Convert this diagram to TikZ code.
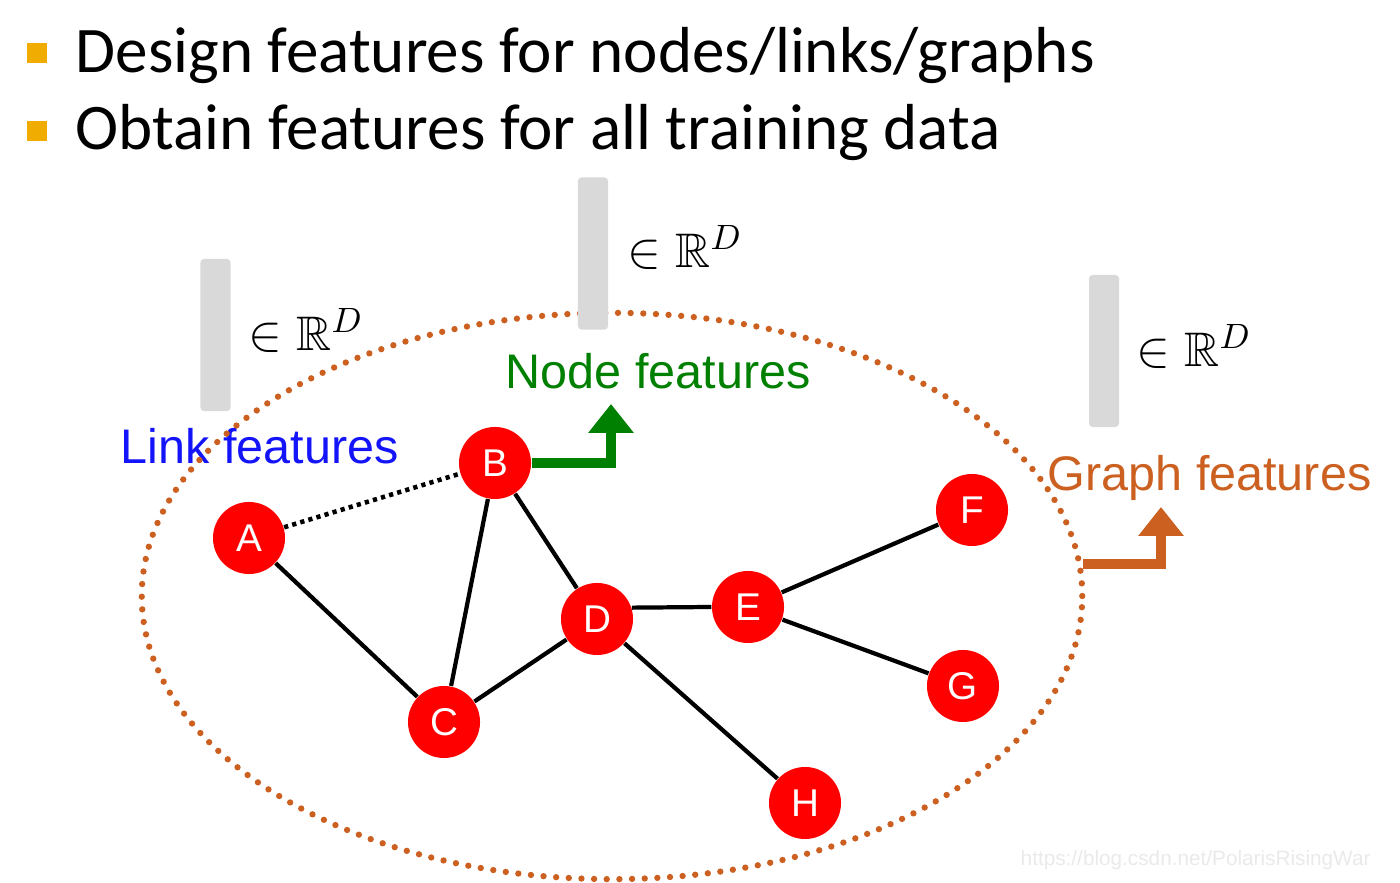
\documentclass[tikz,border=0pt]{standalone}
\usepackage{amssymb}
\usepackage{fontspec}
\newfontfamily\carl{Carlito}
\newfontfamily\arial{Liberation Sans}
\usetikzlibrary{arrows.meta}
\definecolor{bulletc}{RGB}{240,172,0}
\definecolor{barc}{RGB}{217,217,217}
\definecolor{linkc}{RGB}{20,20,250}
\definecolor{nodec}{RGB}{0,128,0}
\definecolor{graphc}{RGB}{204,96,32}
\definecolor{wmc}{RGB}{234,234,234}
\begin{document}
\begin{tikzpicture}[x=0.01cm,y=-0.01cm,
  bulletsq/.style={fill=bulletc, minimum size=0.2cm, inner sep=0},
  bul/.style={anchor=base west, inner sep=0, font=\carl\fontsize{18.5}{22}\selectfont},
  vertex/.style={circle, fill=red, minimum size=0.72cm, inner sep=0, text=white, font=\arial\fontsize{11}{13}\selectfont},
  edge/.style={black, line width=1.2pt},
  linkedge/.style={black, line width=1.3pt, dash pattern=on 1.2pt off 1.2pt},
  bar/.style={fill=barc, rounded corners=1pt, inner sep=0, minimum width=0.30cm, minimum height=1.52cm},
  feat/.style={anchor=base west, inner sep=0, font=\arial\fontsize{13.8}{16}\selectfont},
  vec/.style={anchor=base west, inner sep=0, font=\fontsize{13.8}{16}\selectfont},
  ell/.style={draw=graphc, line width=1.8pt, line cap=round, dash pattern=on 0pt off 3.6pt},
  featarrow/.style={line width=3.1pt, line join=miter, -{Triangle[width=12.4pt,length=8.2pt]}}
]
\useasboundingbox[fill=white] (0,0) rectangle (1400,883);

% bullets
\node[bulletsq] (b1) at (37,53) {};
\node[bulletsq] (b2) at (37,131) {};
\node[bul] (t1) at (75,73) {Design features for nodes/links/graphs};
\node[bul] (t2) at (75,150) {Obtain features for all training data};

% feature labels
\node[feat, text=linkc] (lf) at (120,464) {Link features};
\node[feat, text=nodec] (nf) at (505,389) {Node features};
\node[feat, text=graphc] (gf) at (1047,491) {Graph features};

% dotted ellipse
\draw[ell] (612,596) ellipse [x radius=4.70cm, y radius=2.83cm];

% vector bars
\node[bar] (barL) at (215.5,335) {};
\node[bar] (barM) at (593,253.5) {};
\node[bar] (barR) at (1104,351) {};
\node[vec] (vL) at (248,351) {$\in\mathbb{R}^D$};
\node[vec] (vM) at (627,268) {$\in\mathbb{R}^D$};
\node[vec] (vR) at (1136,367) {$\in\mathbb{R}^D$};

% graph nodes
\node[vertex] (A) at (249,538) {A};
\node[vertex] (B) at (495,463) {B};
\node[vertex] (C) at (444,722) {C};
\node[vertex] (D) at (597,619) {D};
\node[vertex] (E) at (748,607) {E};
\node[vertex] (F) at (972,510) {F};
\node[vertex] (G) at (963,686) {G};
\node[vertex] (H) at (805,803) {H};

% edges
\draw[edge] (A) -- (C);
\draw[edge] (B) -- (C);
\draw[edge] (B) -- (D);
\draw[edge] (C) -- (D);
\draw[edge] (D.18) -- (E.west);
\draw[edge] (D) -- (H);
\draw[edge] (E) -- (F);
\draw[edge] (E) -- (G);
\draw[linkedge] (A) -- (B);

% feature arrows
\coordinate (ntip) at (611,404);
\draw[featarrow, nodec] (B.east) -| (ntip);
\coordinate (gstart) at (1083,564);
\coordinate (gtip) at (1161,507);
\draw[featarrow, graphc] (gstart) -| (gtip);

% watermark
\node[anchor=base west, inner sep=0, font=\arial\fontsize{5.9}{7}\selectfont, text=wmc] (wm) at (1020,866) {https://blog.csdn.net/PolarisRisingWar};
\end{tikzpicture}
\end{document}
